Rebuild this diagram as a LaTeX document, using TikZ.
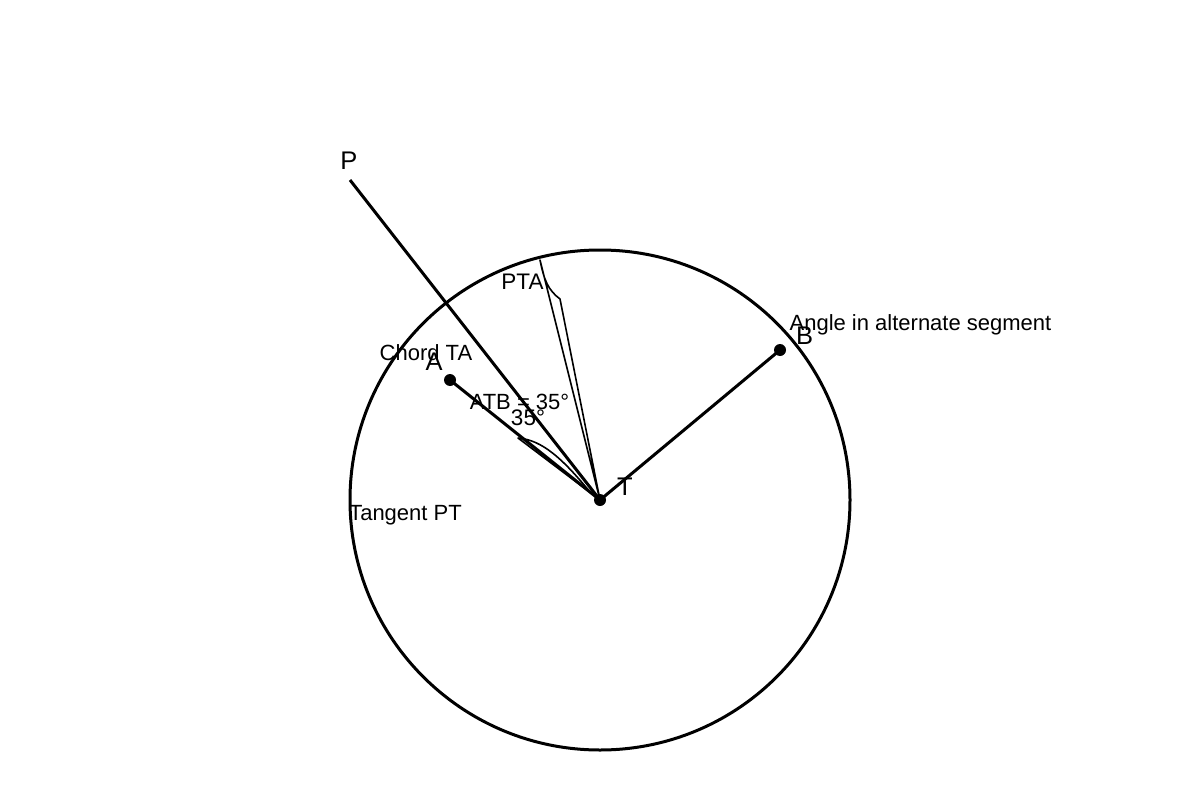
\documentclass[tikz,border=0pt]{standalone}
\usepackage{fontspec}
\setmainfont{Liberation Sans}
\begin{document}
\begin{tikzpicture}[x=1pt,y=-1pt,
  thick line/.style={line width=3pt},
  thin mark/.style={line width=1.6pt, line join=round},
  dot/.style={circle, fill=black, inner sep=0pt, minimum size=12pt},
  biglab/.style={font=\fontsize{25.5}{30}\selectfont, inner sep=0pt, anchor=base},
  midlab/.style={font=\fontsize{22.5}{26}\selectfont, inner sep=0pt, anchor=base},
  lab/.style={font=\fontsize{22}{25}\selectfont, inner sep=0pt, anchor=base}]
\useasboundingbox (0,0) rectangle (1200,800);
\coordinate (O) at (600,500);
\coordinate (P) at (350,180);
\node[dot] (A) at (450,380) {};
\node[dot] (B) at (780,350) {};
\node[dot] (T) at (600,500) {};
% circle
\draw[thick line] (O) circle[radius=250];
% lines
\draw[thick line] (P) -- (T.center);
\draw[thick line] (A.center) -- (T.center);
\draw[thick line] (T.center) -- (B.center);
% PTA mark
\draw[thin mark] (T.center) -- (540,260) .. controls (544,280) and (548,290) .. (560,299) -- (T.center);
% 35 degree mark
\draw[thin mark] (T.center) -- (518,438) .. controls (542,440) and (562,458) .. (590,492) -- (T.center);
% labels
\node[biglab] (lP) at (349,169.5) {P};
\node[biglab] (lA) at (434,370) {A};
\node[biglab] (lB) at (804.5,344.5) {B};
\node[biglab] (lT) at (625,495) {T};
\node[midlab] (lPTA) at (522.5,289.5) {PTA};
\node[lab] (lchord) at (426,360) {Chord TA};
\node[lab] (latb) at (519.5,409.5) {ATB = 35°};
\node[midlab] (l35) at (528,425.5) {35°};
\node[lab] (lalt) at (920.5,330.5) {Angle in alternate segment};
\node[lab] (ltan) at (405.5,520.5) {Tangent PT};
\end{tikzpicture}
\end{document}
